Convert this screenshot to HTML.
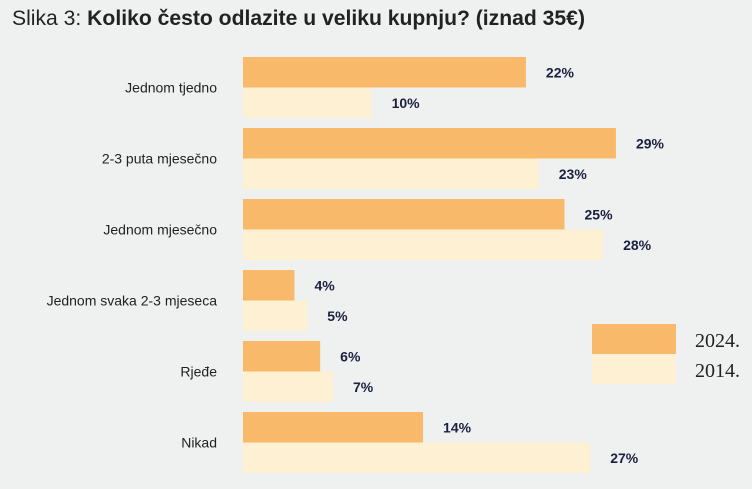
<!DOCTYPE html>
<html><head><meta charset="utf-8"><style>
html,body{margin:0;padding:0;background:#eff1f0;}
svg{display:block;font-family:"Liberation Sans",sans-serif;}
</style></head><body>
<svg id="chart" width="752" height="489" viewBox="0 0 752 489" xmlns="http://www.w3.org/2000/svg">
<rect width="752" height="489" fill="#eff1f0"/>
<text x="12" y="25" font-size="21" fill="#222" textLength="573" lengthAdjust="spacingAndGlyphs">Slika 3: <tspan font-weight="bold">Koliko često odlazite u veliku kupnju? (iznad 35€)</tspan></text>
<g id="bars"></g>
<rect x="592" y="324" width="84" height="30" fill="#f9b96b"/>
<rect x="592" y="354" width="84" height="30" fill="#fef0d2"/>
<text x="695" y="347" font-family="Liberation Serif,serif" font-size="20" fill="#222">2024.</text>
<text x="695" y="377" font-family="Liberation Serif,serif" font-size="20" fill="#222">2014.</text>
</svg>
<script>
const categories=["Jednom tjedno","2-3 puta mjesečno","Jednom mjesečno","Jednom svaka 2-3 mjeseca","Rjeđe","Nikad"];
const values2024=[22,29,25,4,6,14];
const values2014=[10,23,28,5,7,27];
const x0=243, pxPer=12.86, groupTop=57, pitch=71, barH=30.5;
const xs=v=>x0+v*pxPer;
const g=document.getElementById('bars');
const NS="http://www.w3.org/2000/svg";
function mk(tag,attrs){const e=document.createElementNS(NS,tag);for(const k in attrs)e.setAttribute(k,attrs[k]);return e;}
categories.forEach((c,i)=>{
  const y=groupTop+i*pitch;
  const lbl=mk('text',{x:217,y:y+barH+5,'text-anchor':'end','font-size':14,fill:'#222'});
  lbl.textContent=c;
  
  
  g.appendChild(lbl);
  [[values2024[i],'#f9b96b',0,'2024'],[values2014[i],'#fef0d2',barH,'2014']].forEach(([v,col,off,s])=>{
    const r=mk('rect',{x:x0,y:y+off,width:xs(v)-x0,height:barH,fill:col});
    
    
    g.appendChild(r);
    const t=mk('text',{x:xs(v)+20,y:y+off+barH/2+5,'font-size':14,'font-weight':'bold',fill:'#1c2040'});
    t.textContent=v+'%';
    
    
    g.appendChild(t);
  });
});
</script>
</body></html>
